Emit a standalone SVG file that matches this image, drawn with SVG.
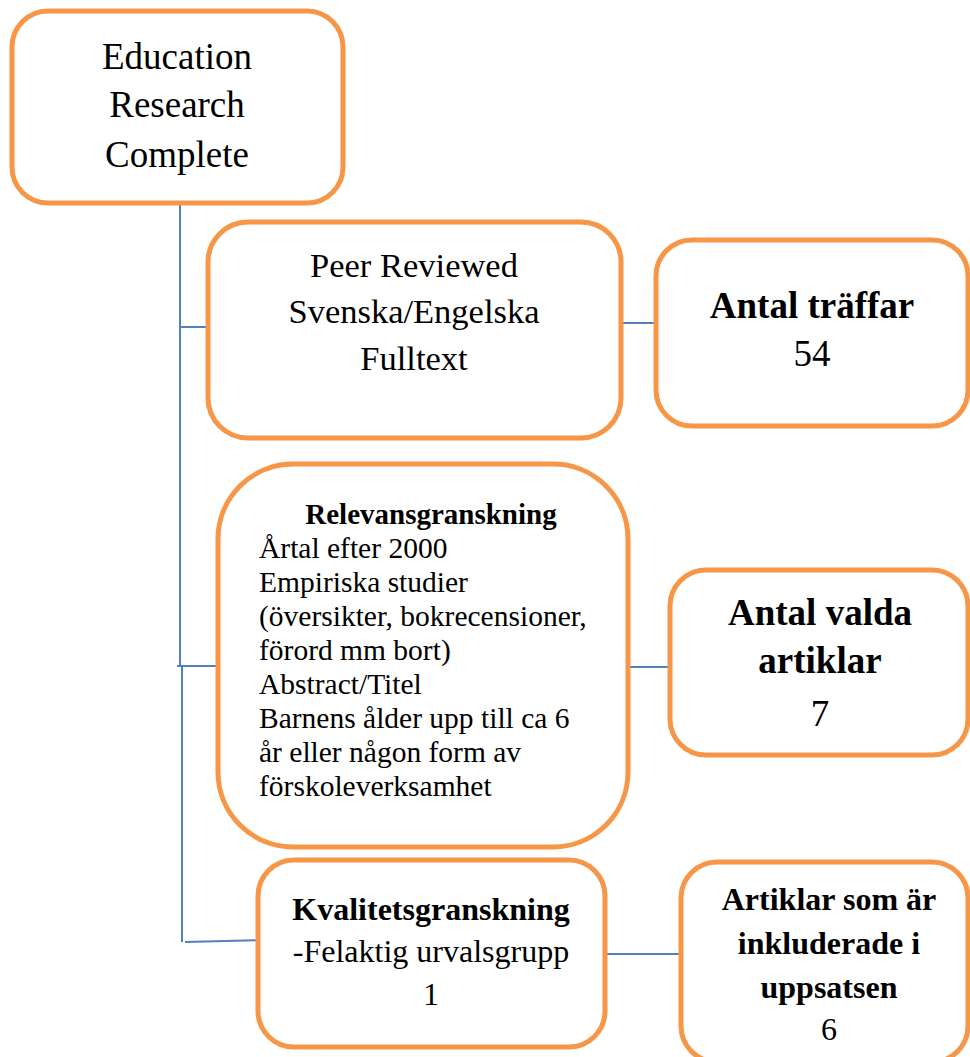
<svg xmlns="http://www.w3.org/2000/svg" width="970" height="1057" viewBox="0 0 970 1057">
<style>
.box{fill:#fff;stroke:#F79646;stroke-width:5}
.ln{stroke:#4F81BD;stroke-width:2;fill:none}
</style>
<rect width="970" height="1057" fill="#fff"/>
<g id="connectors">
<polyline class="ln" points="180,190 180,665"/>
<polyline class="ln" points="182,665 182,942"/>
<line class="ln" x1="181" y1="327" x2="207" y2="327"/>
<line class="ln" x1="177" y1="666" x2="218" y2="666"/>
<line class="ln" x1="185" y1="942" x2="271" y2="940"/>
<line class="ln" x1="621" y1="323" x2="658" y2="323"/>
<line class="ln" x1="629" y1="667" x2="669" y2="667"/>
<line class="ln" x1="586" y1="954" x2="681" y2="954"/>
</g>
<g id="n1">
<rect class="box" x="12" y="11" width="331" height="192" rx="36"/>
<text x="177" y="69" text-anchor="middle" style="font-family:'Liberation Serif';font-size:37px">Education</text>
<text x="177" y="117" text-anchor="middle" style="font-family:'Liberation Serif';font-size:37px">Research</text>
<text x="177" y="167" text-anchor="middle" style="font-family:'Liberation Serif';font-size:37px">Complete</text>
</g>
<g id="n2">
<rect class="box" x="208" y="222" width="413" height="216" rx="40"/>
<text x="414" y="277" text-anchor="middle" style="font-family:'Liberation Serif';font-size:34.5px">Peer Reviewed</text>
<text x="414" y="323" text-anchor="middle" style="font-family:'Liberation Serif';font-size:34.5px">Svenska/Engelska</text>
<text x="414" y="370" text-anchor="middle" style="font-family:'Liberation Serif';font-size:34.5px">Fulltext</text>
</g>
<g id="n3">
<rect class="box" x="656" y="240" width="312" height="186" rx="36"/>
<text x="812" y="318" text-anchor="middle" style="font-family:'Liberation Serif';font-size:37px;font-weight:bold">Antal träffar</text>
<text x="812" y="366" text-anchor="middle" style="font-family:'Liberation Serif';font-size:37px">54</text>
</g>
<g id="n4">
<rect class="box" x="218" y="464" width="410" height="383" rx="75"/>
<text x="431" y="524" text-anchor="middle" style="font-family:'Liberation Serif';font-size:29px;font-weight:bold">Relevansgranskning</text>
<text x="259" y="558" style="font-family:'Liberation Serif';font-size:29.5px">Årtal efter 2000</text>
<text x="259" y="592" style="font-family:'Liberation Serif';font-size:29.5px">Empiriska studier</text>
<text x="259" y="626" style="font-family:'Liberation Serif';font-size:29.5px">(översikter, bokrecensioner,</text>
<text x="259" y="660" style="font-family:'Liberation Serif';font-size:29.5px">förord mm bort)</text>
<text x="259" y="694" style="font-family:'Liberation Serif';font-size:29.5px">Abstract/Titel</text>
<text x="259" y="728" style="font-family:'Liberation Serif';font-size:29.5px">Barnens ålder upp till ca 6</text>
<text x="259" y="762" style="font-family:'Liberation Serif';font-size:29.5px">år eller någon form av</text>
<text x="259" y="796" style="font-family:'Liberation Serif';font-size:29.5px">förskoleverksamhet</text>
</g>
<g id="n5">
<rect class="box" x="670" y="570" width="298" height="185" rx="36"/>
<text x="820" y="625" text-anchor="middle" style="font-family:'Liberation Serif';font-size:37px;font-weight:bold">Antal valda</text>
<text x="820" y="673" text-anchor="middle" style="font-family:'Liberation Serif';font-size:37px;font-weight:bold">artiklar</text>
<text x="820" y="726" text-anchor="middle" style="font-family:'Liberation Serif';font-size:37px">7</text>
</g>
<g id="n6">
<rect class="box" x="258" y="860" width="347" height="187" rx="36"/>
<text x="431" y="920" text-anchor="middle" style="font-family:'Liberation Serif';font-size:32px;font-weight:bold">Kvalitetsgranskning</text>
<text x="431" y="962" text-anchor="middle" style="font-family:'Liberation Serif';font-size:32px">-Felaktig urvalsgrupp</text>
<text x="431" y="1005" text-anchor="middle" style="font-family:'Liberation Serif';font-size:32px">1</text>
</g>
<g id="n7">
<rect class="box" x="681" y="862" width="287" height="200" rx="36"/>
<text x="829" y="910" text-anchor="middle" style="font-family:'Liberation Serif';font-size:32px;font-weight:bold">Artiklar som är</text>
<text x="829" y="954" text-anchor="middle" style="font-family:'Liberation Serif';font-size:32px;font-weight:bold">inkluderade i</text>
<text x="829" y="998" text-anchor="middle" style="font-family:'Liberation Serif';font-size:32px;font-weight:bold">uppsatsen</text>
<text x="829" y="1040" text-anchor="middle" style="font-family:'Liberation Serif';font-size:32px">6</text>
</g>
</svg>
